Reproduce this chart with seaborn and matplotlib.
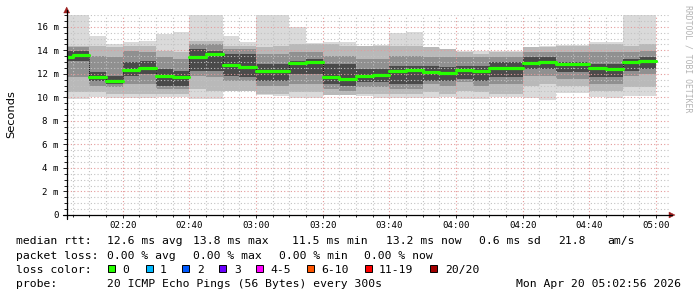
import numpy as np
import pandas as pd
import matplotlib
matplotlib.use("Agg")
import matplotlib.pyplot as plt
import seaborn as sns
from matplotlib.patches import Rectangle, Polygon
from matplotlib.lines import Line2D
from matplotlib.ticker import MultipleLocator, FixedLocator, FixedFormatter

# ---------------- data (ms) ----------------
# 5-minute steps, each value covers the 5 minutes ending at the stamp
step_end = pd.date_range("2026-04-20 02:05", "2026-04-20 05:00", freq="5min")

median = [13.40, 13.60, 11.71, 11.43, 12.36, 12.53, 11.85, 11.71, 13.40, 13.69,
          12.79, 12.62, 12.28, 12.22, 12.90, 12.98, 11.71, 11.52, 11.85, 11.94,
          12.25, 12.31, 12.14, 12.08, 12.31, 12.28, 12.48, 12.53, 12.93, 12.98,
          12.81, 12.81, 12.48, 12.39, 12.98, 13.12]
rtt_max = [17.00, 17.00, 15.24, 14.54, 14.68, 14.80, 15.38, 15.52, 17.00, 17.00,
           15.24, 14.68, 17.00, 17.00, 15.95, 14.60, 14.68, 14.68, 14.39, 14.45,
           15.44, 15.58, 14.31, 13.97, 13.97, 13.97, 13.97, 13.97, 14.31, 14.40,
           14.45, 14.45, 14.68, 14.68, 17.00, 17.00]
rtt_min = [9.88, 9.88, 10.02, 9.96, 9.96, 9.96, 10.02, 10.02, 9.88, 9.88,
           10.58, 10.58, 10.16, 10.10, 9.96, 9.96, 10.16, 10.16, 10.10, 9.96,
           9.96, 9.96, 9.96, 10.02, 9.88, 9.88, 10.02, 10.02, 9.96, 9.80,
           10.36, 10.36, 10.02, 9.96, 10.08, 10.08]
p90 = [14.40, 14.40, 14.40, 14.25, 14.40, 14.40, 13.97, 13.83, 14.82, 14.82,
       14.40, 14.40, 14.25, 14.40, 14.54, 14.54, 14.54, 14.40, 14.40, 14.40,
       14.40, 14.40, 14.25, 14.11, 13.83, 13.69, 13.83, 13.83, 14.25, 14.25,
       14.40, 14.40, 14.54, 14.54, 14.40, 14.54]
p10 = [10.44, 10.44, 10.44, 10.30, 10.30, 10.30, 10.30, 10.30, 10.72, 10.58,
       10.58, 10.58, 10.30, 10.30, 10.44, 10.44, 10.16, 10.16, 10.30, 10.30,
       10.30, 10.30, 10.44, 10.30, 10.58, 10.44, 10.30, 10.30, 11.00, 11.15,
       11.00, 11.00, 10.58, 10.58, 10.86, 10.86]
p75 = [14.25, 14.25, 13.55, 13.40, 13.97, 13.83, 13.40, 13.26, 14.54, 14.54,
       14.11, 14.11, 13.69, 13.69, 13.83, 13.83, 13.55, 13.55, 13.26, 13.26,
       13.55, 13.55, 13.40, 13.40, 13.40, 13.40, 13.40, 13.40, 13.83, 13.83,
       13.83, 13.83, 13.83, 13.83, 13.83, 13.97]
p25 = [11.71, 11.71, 11.00, 10.86, 11.15, 11.15, 10.72, 10.72, 11.85, 11.71,
       11.43, 11.43, 11.00, 11.00, 11.15, 11.15, 10.72, 10.58, 10.86, 10.86,
       10.72, 10.72, 11.15, 11.00, 11.29, 11.00, 11.15, 11.15, 11.85, 11.85,
       11.57, 11.57, 11.15, 11.15, 11.85, 11.99]
p60 = [13.97, 13.97, 12.14, 11.85, 12.98, 13.12, 12.42, 12.28, 14.11, 13.97,
       13.69, 13.69, 12.84, 12.84, 13.12, 13.26, 12.84, 12.84, 12.42, 12.42,
       12.70, 12.70, 12.70, 12.56, 12.70, 12.70, 12.98, 12.98, 13.40, 13.40,
       12.98, 12.98, 12.84, 12.84, 13.26, 13.40]
p40 = [13.12, 13.12, 11.43, 11.15, 11.85, 11.99, 11.00, 11.00, 12.28, 12.28,
       11.85, 11.71, 11.43, 11.43, 11.99, 11.99, 11.15, 11.00, 11.29, 11.29,
       11.15, 11.15, 11.43, 11.43, 11.57, 11.43, 11.71, 11.71, 12.42, 12.42,
       12.14, 12.14, 11.71, 11.71, 12.28, 12.42]

x_tick_labels = ["02:20", "02:40", "03:00", "03:20", "03:40", "04:00", "04:20", "04:40", "05:00"]
y_tick_labels = ["0", "2 m", "4 m", "6 m", "8 m", "10 m", "12 m", "14 m", "16 m"]

loss_labels = ["0", "1", "2", "3", "4-5", "6-10", "11-19", "20/20"]
loss_colors = ["#26ff00", "#00b8ff", "#0059ff", "#6a00ff", "#ff00ff", "#ff5500", "#ff0000", "#a10000"]

# ---------------- figure ----------------
sns.set_style("white")
plt.rcParams["font.family"] = ["DejaVu Sans Mono"]
MONO = "DejaVu Sans Mono"
W, H = 697, 297

fig = plt.figure(figsize=(W / 100, H / 100), dpi=100)
fig.patch.set_facecolor("white")
ax_l, ax_r, ax_t, ax_b = 66.7, 669.0, 15.0, 215.0
ax = fig.add_axes([ax_l / W, 1 - ax_b / H, (ax_r - ax_l) / W, (ax_b - ax_t) / H])
ax.set_facecolor("white")

def minutes(ts):
    return np.array([t.hour * 60 + t.minute + t.second / 60 for t in ts])

ends = minutes(step_end)
starts = ends - 5
edges = np.append(starts, ends[-1])

def st(a):
    a = np.asarray(a, dtype=float)
    return np.append(a, a[-1])

bands = [(rtt_min, rtt_max, "#dadada"),
         (p10, p90, "#b9b9b9"),
         (p25, p75, "#909090"),
         (p40, p60, "#4a4a4a")]
for lo, hi, c in bands:
    ax.fill_between(edges, st(lo), st(hi), step="post", color=c, lw=0, zorder=1)

# thin dark dotted connector under the median
ax.step(edges, st(median), where="post", color="#111111", lw=0.7,
        ls=(0, (1, 1)), zorder=3)

# median: one horizontal segment per step, in the 0 %-loss colour
seg = pd.DataFrame({
    "t": np.concatenate([starts, ends]),
    "ms": np.concatenate([median, median]),
    "step": np.concatenate([np.arange(len(median)), np.arange(len(median))]),
})
sns.lineplot(data=seg, x="t", y="ms", units="step", estimator=None,
             color="#26ff00", lw=2.3, ax=ax, zorder=4, legend=False)

ax.set_xlim(123.2, 303.9)
ax.set_ylim(0, 17.0)

ax.xaxis.set_major_locator(FixedLocator(np.arange(140, 301, 20)))
ax.xaxis.set_major_formatter(FixedFormatter(x_tick_labels))
ax.xaxis.set_minor_locator(MultipleLocator(5))
ax.yaxis.set_major_locator(FixedLocator(np.arange(0, 17, 2)))
ax.yaxis.set_major_formatter(FixedFormatter(y_tick_labels))
ax.yaxis.set_minor_locator(MultipleLocator(0.5))

ax.set_axisbelow(False)
ax.grid(which="major", color="#e49a9a", ls=(0, (1, 2)), lw=0.8, zorder=2)
ax.grid(which="minor", color="#c2c2c2", ls=(0, (1, 2)), lw=0.8, zorder=2)

for s in ["top", "right", "left", "bottom"]:
    ax.spines[s].set_visible(False)

ax.tick_params(axis="both", which="both", bottom=True, left=True, color="black",
               width=0.6, labelcolor="black", labelsize=6.6)
ax.tick_params(axis="y", which="major", length=3, pad=2.6)
ax.tick_params(axis="y", which="minor", length=2)
ax.tick_params(axis="x", which="major", length=2.5, pad=2.0)
ax.tick_params(axis="x", which="minor", length=1.5)
ax.set_xlabel("")
ax.set_ylabel("")

def P(x, y):
    return (x / W, 1 - y / H)

# axis lines with arrows
fig.add_artist(Line2D([63 / W, 672 / W], [1 - ax_b / H] * 2, color="black", lw=0.9))
fig.add_artist(Line2D([ax_l / W] * 2, [1 - 219 / H, 1 - 10 / H], color="black", lw=0.9))
arrow_c = "#9b1c1c"
fig.add_artist(Polygon([P(ax_l - 3, 13), P(ax_l + 3, 13), P(ax_l, 7)], closed=True,
                       facecolor=arrow_c, edgecolor=arrow_c, lw=0.3))
fig.add_artist(Polygon([P(669, 212), P(669, 218), P(675, 215)], closed=True,
                       facecolor=arrow_c, edgecolor=arrow_c, lw=0.3))

# y label
fig.text(*P(11, 114), "Seconds", rotation=90, ha="center", va="center",
         fontsize=8.2, family="DejaVu Sans", color="black")

# vertical watermark
fig.text(*P(688, 59), "RRDTOOL / TOBI OETIKER", rotation=270, ha="center", va="center",
         fontsize=5.9, family=MONO, color="#b3b3b3")

FS = 8.2
def T(x, y, s, **kw):
    fig.text(*P(x, y), s, fontsize=FS, family=MONO, color="black", va="baseline", **kw)

y1, y2, y3, y4 = 244.3, 258.6, 272.6, 286.6
T(16, y1, "median rtt:")
T(107, y1, "12.6 ms avg")
T(193, y1, "13.8 ms max")
T(292, y1, "11.5 ms min")
T(385.5, y1, "13.2 ms now")
T(479, y1, "0.6 ms sd")
T(558, y1, "21.8")
T(607, y1, "am/s")

T(16, y2, "packet loss:")
T(107, y2, "0.00 % avg")
T(193, y2, "0.00 % max")
T(279, y2, "0.00 % min")
T(364.5, y2, "0.00 % now")

T(16, y3, "loss color:")
box_x = [108.3, 145.7, 182.3, 219.3, 256.0, 307.3, 365.0, 430.0]
lab_x = [122.5, 159.5, 197.0, 234.5, 270.5, 321.5, 379.0, 445.0]
for bx, lx, lab, col in zip(box_x, lab_x, loss_labels, loss_colors):
    fig.add_artist(Rectangle(P(bx, 271.7), 7 / W, 7 / H, facecolor=col,
                             edgecolor="black", lw=0.7))
    T(lx, y3, lab)

T(16, y4, "probe:")
T(107, y4, "20 ICMP Echo Pings (56 Bytes) every 300s")
T(681, y4, "Mon Apr 20 05:02:56 2026", ha="right")

fig.savefig("out.png", dpi=100, facecolor="white")
